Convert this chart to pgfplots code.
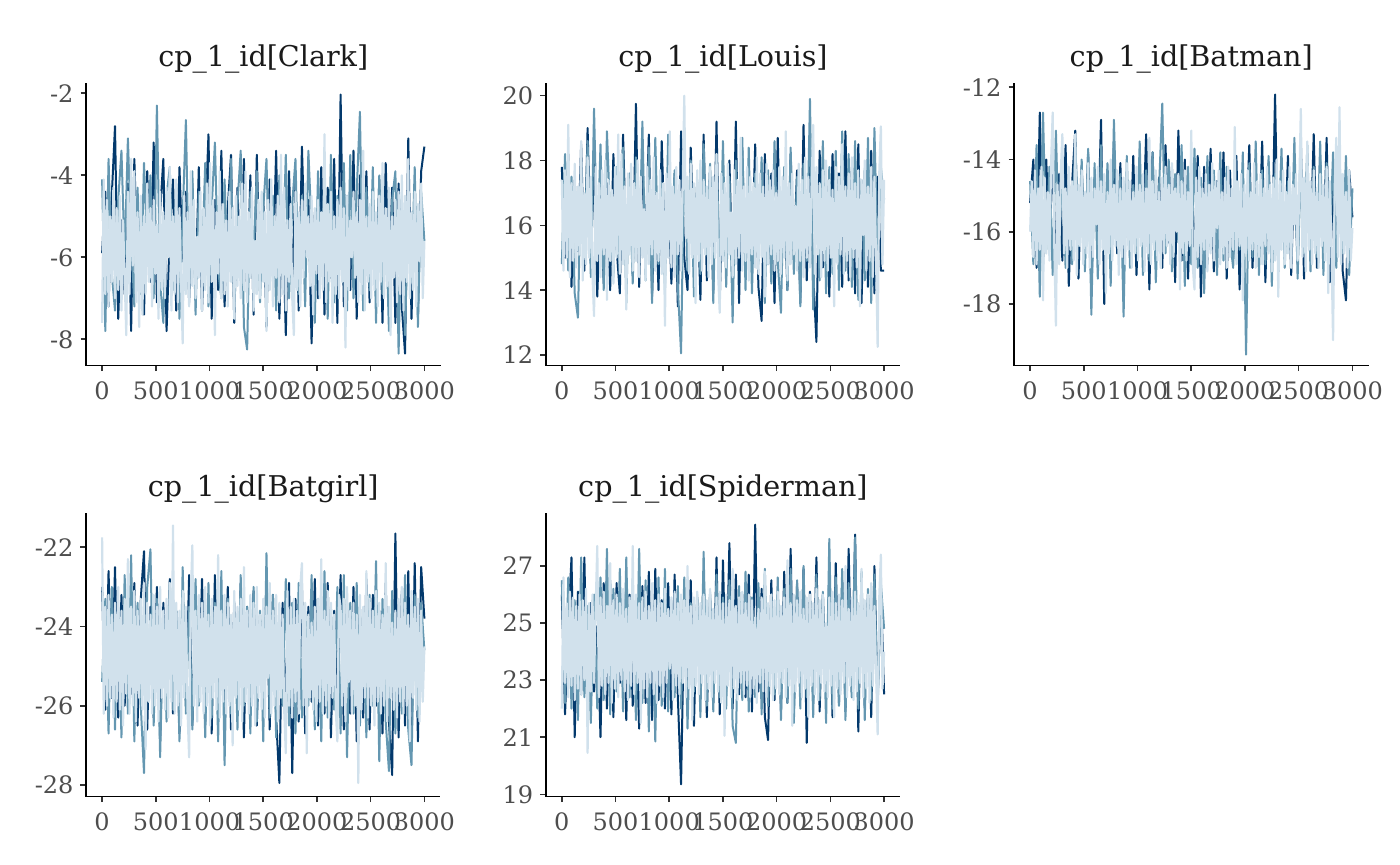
\documentclass[border=0pt]{standalone}
\usepackage{fontspec}
\setmainfont{DejaVu Serif}
\usepackage{pgfplots}
\pgfplotsset{compat=1.18}
\usepackage{pgfplotstable}
\definecolor{cdark}{HTML}{03396C}
\definecolor{cmid}{HTML}{6497B1}
\definecolor{clight}{HTML}{D1E1EC}
\definecolor{tickgray}{HTML}{4D4D4D}
\definecolor{titlegray}{HTML}{1A1A1A}

% chains 1 (a) and 2 (b)
\pgfplotstableread{
x a b
0 -5.9 -4.1
30 -4.4 -7.8
60 -7.2 -3.6
90 -4.5 -6.4
120 -2.8 -7.3
150 -7.5 -4.6
180 -5.1 -3.4
210 -6.9 -6.0
240 -4.2 -3.1
270 -7.8 -5.5
300 -3.6 -7.2
330 -6.3 -4.3
360 -5.0 -6.9
390 -7.4 -3.7
420 -3.9 -5.8
450 -6.6 -4.0
480 -3.2 -7.0
510 -7.1 -2.3
540 -4.9 -6.6
570 -3.6 -7.6
600 -7.8 -4.5
630 -5.4 -3.8
660 -4.1 -6.8
690 -7.3 -4.2
720 -3.8 -7.5
750 -6.1 -5.0
780 -4.4 -2.65
810 -7.1 -6.9
840 -4.2 -3.9
870 -6.9 -7.4
900 -3.8 -4.4
930 -7.3 -6.1
960 -5.2 -3.7
990 -3.0 -7.2
1020 -7.5 -4.8
1050 -4.6 -3.2
1080 -6.8 -6.3
1110 -3.4 -7.0
1140 -7.2 -4.1
1170 -4.8 -6.5
1200 -3.5 -3.6
1230 -7.6 -7.3
1260 -4.3 -4.7
1290 -6.5 -3.4
1320 -3.6 -7.7
1350 -7.0 -8.25
1380 -4.0 -4.4
1410 -7.4 -6.0
1440 -3.5 -3.9
1470 -6.6 -7.1
1500 -4.5 -4.8
1530 -7.7 -3.6
1560 -4.1 -6.7
1590 -6.4 -4.5
1620 -3.4 -7.3
1650 -7.5 -4.0
1680 -4.8 -6.2
1710 -7.9 -3.5
1740 -3.9 -7.0
1770 -6.6 -4.7
1800 -4.2 -3.6
1830 -7.3 -6.9
1860 -3.3 -4.5
1890 -6.0 -7.2
1920 -4.6 -3.4
1950 -8.1 -5.3
1980 -4.9 -7.6
2010 -7.0 -3.9
2040 -3.8 -6.4
2070 -7.4 -4.1
2100 -4.3 -7.5
2130 -6.5 -3.5
2160 -3.6 -7.1
2190 -7.6 -4.5
2220 -2.03 -6.2
2250 -7.2 -3.7
2280 -4.5 -7.3
2310 -6.8 -3.5
2340 -3.4 -7.0
2370 -7.5 -4.4
2400 -4.0 -2.45
2430 -6.6 -7.3
2460 -3.9 -4.3
2490 -7.1 -6.8
2520 -4.6 -3.8
2550 -6.9 -7.6
2580 -4.1 -4.0
2610 -7.6 -6.9
2640 -3.7 -5.0
2670 -6.4 -7.8
2700 -4.3 -4.6
2730 -7.6 -3.9
2760 -4.2 -8.35
2790 -7.2 -4.5
2820 -8.35 -7.9
2850 -3.1 -4.7
2880 -7.5 -6.6
2910 -4.5 -3.8
2940 -7.4 -7.7
2970 -3.9 -4.4
3000 -3.3 -5.6
}\clark

\pgfplotstableread{
x c
0 -7.6
15 -4.1
30 -6.9
45 -4.6
60 -7.2
75 -5.0
90 -6.6
105 -4.3
120 -7.0
135 -4.8
150 -6.8
165 -4.5
180 -7.3
195 -5.1
210 -6.5
225 -7.9
240 -4.4
255 -6.9
270 -3.6
285 -6.2
300 -3.9
315 -7.1
330 -4.9
345 -7.7
360 -4.5
375 -7.4
390 -5.0
405 -6.9
420 -4.2
435 -6.6
450 -4.8
465 -7.2
480 -4.6
495 -6.4
510 -5.2
525 -7.5
540 -4.4
555 -6.8
570 -4.9
585 -7.0
600 -4.3
615 -6.0
630 -3.8
645 -7.3
660 -5.0
675 -6.9
690 -4.1
705 -7.1
720 -4.8
735 -6.6
750 -8.1
765 -4.5
780 -6.9
795 -4.9
810 -7.2
825 -3.9
840 -6.7
855 -4.6
870 -7.0
885 -5.5
900 -6.5
915 -4.4
930 -7.3
945 -4.8
960 -6.8
975 -4.2
990 -7.1
1005 -3.7
1020 -6.6
1035 -4.6
1050 -7.9
1065 -4.9
1080 -6.4
1095 -3.9
1110 -7.0
1125 -4.7
1140 -6.9
1155 -5.1
1170 -7.2
1185 -4.4
1200 -6.6
1215 -4.8
1230 -7.5
1245 -4.5
1260 -6.7
1275 -5.0
1290 -7.0
1305 -4.2
1320 -6.8
1335 -3.9
1350 -7.1
1365 -4.9
1380 -6.5
1395 -4.3
1410 -7.3
1425 -5.6
1440 -6.9
1455 -4.6
1470 -7.0
1485 -4.4
1500 -6.6
1515 -4.9
1530 -7.8
1545 -4.6
1560 -6.8
1575 -4.1
1590 -7.2
1605 -5.0
1620 -6.5
1635 -4.5
1650 -7.1
1665 -3.5
1680 -6.9
1695 -4.3
1710 -7.3
1725 -5.1
1740 -6.6
1755 -4.7
1770 -7.0
1785 -7.9
1800 -4.4
1815 -6.8
1830 -4.9
1845 -7.2
1860 -4.6
1875 -6.5
1890 -4.2
1905 -6.0
1920 -5.0
1935 -6.7
1950 -4.5
1965 -7.4
1980 -4.8
1995 -6.4
2010 -4.6
2025 -7.0
2040 -4.9
2055 -6.8
2070 -3.0
2085 -7.1
2100 -4.7
2115 -6.6
2130 -4.4
2145 -7.6
2160 -5.0
2175 -6.9
2190 -4.6
2205 -7.0
2220 -4.3
2235 -6.6
2250 -4.8
2265 -8.2
2280 -4.5
2295 -6.8
2310 -5.1
2325 -6.0
2340 -4.4
2355 -6.5
2370 -4.9
2385 -7.1
2400 -4.6
2415 -6.9
2430 -3.4
2445 -7.3
2460 -5.0
2475 -6.6
2490 -4.7
2505 -7.0
2520 -4.4
2535 -6.8
2550 -4.9
2565 -7.2
2580 -4.5
2595 -6.6
2610 -3.7
2625 -7.0
2640 -4.8
2655 -6.7
2670 -4.3
2685 -7.9
2700 -5.0
2715 -6.5
2730 -4.6
2745 -7.1
2760 -4.4
2775 -6.9
2790 -4.0
2805 -7.3
2820 -4.5
2835 -6.6
2850 -3.6
2865 -7.0
2880 -4.9
2895 -6.8
2910 -4.4
2925 -7.2
2940 -4.7
2955 -6.1
2970 -4.2
2985 -7.0
3000 -5.6
}\clarkc

\pgfplotstableread{
x a b
0 17.8 14.8
30 15.0 18.2
60 18.2 14.6
90 14.1 17.5
120 17.4 13.9
150 15.2 13.15
180 18.5 17.8
210 14.6 15.0
240 19.0 18.6
270 14.8 14.4
300 17.9 19.6
330 13.8 15.1
360 16.9 18.5
390 14.2 14.0
420 17.3 18.9
450 14.0 16.3
480 18.2 14.4
510 15.3 17.8
540 13.9 14.6
570 18.8 18.4
600 15.2 13.6
630 17.5 17.6
660 14.5 14.2
690 19.75 18.1
720 14.1 15.0
750 17.8 19.2
780 15.5 14.3
810 18.8 18.4
840 13.8 13.6
870 17.0 18.7
900 14.0 14.8
930 18.6 17.3
960 15.3 14.0
990 17.2 18.8
1020 14.2 15.2
1050 17.6 17.7
1080 13.5 14.1
1110 18.9 12.05
1140 15.0 18.3
1170 14.0 14.6
1200 18.4 18.0
1230 15.1 13.8
1260 17.3 17.4
1290 13.7 14.5
1320 18.8 18.5
1350 14.3 15.1
1380 17.7 17.9
1410 14.0 13.6
1440 19.2 18.2
1470 13.7 14.4
1500 17.3 18.6
1530 14.9 14.1
1560 18.0 17.5
1590 14.2 13.0
1620 19.2 18.0
1650 13.6 15.0
1680 18.3 18.7
1710 14.5 14.0
1740 17.5 18.4
1770 15.0 13.9
1800 18.5 17.6
1830 14.1 14.8
1860 13.05 18.1
1890 18.2 13.6
1920 14.8 17.7
1950 17.6 14.2
1980 13.6 18.6
2010 18.7 14.9
2040 14.6 13.3
2070 17.2 17.8
2100 14.0 14.0
2130 18.2 18.4
2160 15.1 14.5
2190 17.7 17.5
2220 13.6 13.5
2250 19.1 17.9
2280 14.3 14.9
2310 17.8 19.9
2340 14.5 13.4
2370 12.4 17.3
2400 18.3 14.3
2430 14.7 18.6
2460 17.4 13.9
2490 13.8 17.8
2520 18.2 14.5
2550 15.0 18.3
2580 17.6 14.0
2610 14.1 18.9
2640 18.9 14.6
2670 14.3 18.2
2700 17.8 14.1
2730 13.9 18.6
2760 18.5 13.7
2790 13.6 17.4
2820 17.7 14.3
2850 14.1 18.7
2880 18.3 13.6
2910 13.9 19.0
2940 17.5 14.8
2970 14.6 17.8
3000 14.6 16.8
}\louis

\pgfplotstableread{
x c
0 17.4
15 14.6
30 17.7
45 15.0
60 19.1
75 14.4
90 17.3
105 14.9
120 17.9
135 14.7
150 17.2
165 15.1
180 18.6
195 14.3
210 17.0
225 14.8
240 18.1
255 15.0
270 17.5
285 14.5
300 13.2
315 17.8
330 14.9
345 17.3
360 14.4
375 17.7
390 15.1
405 18.0
420 13.7
435 17.4
450 14.9
465 17.1
480 14.2
495 17.8
510 15.0
525 18.8
540 14.5
555 18.2
570 14.8
585 17.2
600 13.4
615 17.6
630 15.1
645 17.9
660 14.6
675 17.3
690 14.9
705 18.0
720 14.4
735 17.5
750 15.0
765 16.5
780 14.3
795 17.8
810 14.8
825 17.4
840 15.1
855 18.1
870 14.6
885 17.0
900 14.9
915 17.7
930 14.5
945 17.3
960 12.9
975 17.6
990 15.0
1005 18.9
1020 14.7
1035 17.2
1050 14.4
1065 17.8
1080 15.1
1095 17.4
1110 14.6
1125 17.1
1140 20.0
1155 15.6
1170 17.5
1185 14.5
1200 17.9
1215 15.0
1230 17.3
1245 13.6
1260 17.7
1275 14.9
1290 18.0
1305 14.6
1320 17.4
1335 15.1
1350 17.2
1365 14.4
1380 17.8
1395 14.8
1410 17.5
1425 15.0
1440 18.2
1455 14.5
1470 13.3
1485 17.6
1500 14.9
1515 17.3
1530 14.7
1545 17.9
1560 15.1
1575 16.4
1590 14.4
1605 17.7
1620 14.8
1635 17.4
1650 15.0
1665 18.7
1680 14.6
1695 17.2
1710 14.9
1725 17.8
1740 14.3
1755 17.5
1770 15.1
1785 17.3
1800 14.7
1815 18.1
1830 14.5
1845 17.6
1860 15.0
1875 17.2
1890 13.8
1905 17.9
1920 14.8
1935 17.4
1950 15.1
1965 17.7
1980 14.6
1995 17.0
2010 14.9
2025 17.8
2040 14.5
2055 17.5
2070 15.0
2085 18.9
2100 14.3
2115 17.3
2130 14.8
2145 17.6
2160 15.1
2175 16.6
2190 14.6
2205 17.9
2220 14.9
2235 17.4
2250 14.4
2265 18.1
2280 15.0
2295 17.5
2310 14.7
2325 17.2
2340 19.1
2355 14.5
2370 17.8
2385 15.1
2400 17.3
2415 14.4
2430 17.7
2445 14.9
2460 18.0
2475 14.6
2490 17.4
2505 15.0
2520 17.1
2535 13.5
2550 17.8
2565 14.8
2580 17.5
2595 15.1
2610 18.5
2625 14.5
2640 17.2
2655 14.9
2670 17.6
2685 14.4
2700 18.1
2715 15.0
2730 17.3
2745 14.7
2760 17.7
2775 13.5
2790 17.4
2805 15.7
2820 18.0
2835 14.6
2850 17.2
2865 14.9
2880 17.8
2895 14.4
2910 17.5
2925 15.0
2940 12.25
2955 17.6
2970 19.05
2985 14.8
3000 17.4
}\louisc

\pgfplotstableread{
x a b
0 -15.2 -14.6
30 -14.0 -16.9
60 -17.0 -13.6
90 -12.7 -17.8
120 -16.9 -12.7
150 -14.0 -16.5
180 -16.3 -14.2
210 -13.9 -17.2
240 -17.1 -13.2
270 -14.4 -16.6
300 -16.8 -13.9
330 -13.6 -17.0
360 -17.5 -14.6
390 -14.7 -16.9
420 -13.2 -13.4
450 -17.3 -16.4
480 -14.2 -14.0
510 -16.8 -17.1
540 -13.8 -13.7
570 -17.6 -18.3
600 -14.5 -14.1
630 -16.2 -17.3
660 -12.9 -13.6
690 -18.0 -16.4
720 -14.3 -14.1
750 -17.0 -17.5
780 -13.5 -12.9
810 -16.6 -16.2
840 -14.1 -14.4
870 -17.4 -18.35
900 -14.6 -13.9
930 -16.7 -17.0
960 -13.9 -14.7
990 -17.2 -16.6
1020 -14.8 -13.5
1050 -16.1 -17.2
1080 -13.3 -14.3
1110 -17.6 -16.8
1140 -13.8 -13.8
1170 -16.9 -17.4
1200 -14.5 -14.8
1230 -17.0 -12.45
1260 -13.6 -16.6
1290 -16.3 -14.0
1320 -14.2 -17.1
1350 -17.4 -14.4
1380 -13.2 -16.3
1410 -16.8 -13.6
1440 -14.0 -17.5
1470 -17.3 -14.2
1500 -14.4 -16.9
1530 -16.6 -13.7
1560 -13.9 -17.0
1590 -17.8 -14.5
1620 -14.2 -17.7
1650 -16.9 -13.9
1680 -13.7 -16.5
1710 -17.1 -14.3
1740 -14.6 -17.2
1770 -16.4 -13.8
1800 -13.8 -16.8
1830 -17.3 -14.2
1860 -14.3 -16.2
1890 -16.7 -17.0
1920 -13.9 -14.6
1950 -17.6 -16.5
1980 -14.5 -13.8
2010 -16.2 -19.4
2040 -13.6 -14.1
2070 -17.0 -16.7
2100 -14.8 -13.5
2130 -16.5 -17.2
2160 -13.5 -14.3
2190 -17.4 -16.9
2220 -14.1 -13.9
2250 -16.8 -17.5
2280 -12.2 -14.4
2310 -17.1 -16.3
2340 -14.4 -13.7
2370 -16.6 -17.0
2400 -13.9 -14.6
2430 -17.2 -16.8
2460 -14.2 -13.4
2490 -16.9 -17.3
2520 -13.5 -14.0
2550 -17.3 -16.6
2580 -14.1 -13.6
2610 -16.4 -17.1
2640 -13.3 -14.2
2670 -17.0 -16.7
2700 -14.0 -13.5
2730 -16.7 -17.2
2760 -13.4 -14.1
2790 -17.4 -16.4
2820 -14.6 -13.8
2850 -16.5 -17.0
2880 -13.9 -14.4
2910 -17.1 -16.6
2940 -17.9 -13.9
2970 -14.3 -17.2
3000 -15.6 -14.8
}\batman

\pgfplotstableread{
x c
0 -16.0
15 -14.6
30 -16.7
45 -14.3
60 -16.9
75 -14.8
90 -16.5
105 -14.2
120 -17.9
135 -14.5
150 -16.6
165 -14.9
180 -16.8
195 -14.1
210 -12.7
225 -16.4
240 -18.6
255 -14.7
270 -16.9
285 -14.4
300 -13.3
315 -16.6
330 -14.8
345 -17.0
360 -14.2
375 -16.5
390 -14.6
405 -16.8
420 -13.3
435 -17.2
450 -14.7
465 -16.4
480 -14.3
495 -16.9
510 -14.9
525 -16.6
540 -14.1
555 -17.0
570 -14.5
585 -16.7
600 -14.8
615 -15.8
630 -14.2
645 -16.9
660 -14.6
675 -16.5
690 -14.4
705 -17.7
720 -14.9
735 -16.6
750 -14.0
765 -16.8
780 -14.7
795 -16.4
810 -14.3
825 -17.2
840 -14.8
855 -16.7
870 -14.5
885 -16.9
900 -14.1
915 -16.5
930 -14.6
945 -17.0
960 -14.9
975 -16.6
990 -14.2
1005 -16.8
1020 -14.7
1035 -16.4
1050 -14.4
1065 -17.1
1080 -14.8
1095 -16.6
1110 -13.4
1125 -16.9
1140 -14.6
1155 -16.5
1170 -14.3
1185 -16.8
1200 -14.9
1215 -17.0
1230 -14.5
1245 -16.6
1260 -14.2
1275 -16.4
1290 -14.7
1305 -16.9
1320 -14.1
1335 -16.7
1350 -14.8
1365 -16.0
1380 -14.4
1395 -17.6
1410 -14.6
1425 -16.6
1440 -14.3
1455 -16.8
1470 -14.9
1485 -16.4
1500 -13.2
1515 -17.0
1530 -17.6
1545 -14.5
1560 -16.7
1575 -14.2
1590 -16.9
1605 -14.8
1620 -16.5
1635 -14.4
1650 -17.1
1665 -14.7
1680 -16.6
1695 -14.1
1710 -16.8
1725 -14.6
1740 -15.9
1755 -14.3
1770 -16.9
1785 -14.9
1800 -16.6
1815 -14.5
1830 -17.0
1845 -14.2
1860 -16.7
1875 -14.8
1890 -16.5
1905 -13.1
1920 -16.9
1935 -14.6
1950 -16.4
1965 -14.4
1980 -17.9
1995 -14.7
2010 -16.6
2025 -14.3
2040 -16.8
2055 -14.9
2070 -16.5
2085 -14.1
2100 -17.0
2115 -14.6
2130 -16.7
2145 -14.4
2160 -16.9
2175 -14.8
2190 -16.4
2205 -14.2
2220 -16.6
2235 -14.7
2250 -17.1
2265 -14.5
2280 -16.8
2295 -14.0
2310 -17.8
2325 -14.6
2340 -16.5
2355 -14.3
2370 -16.9
2385 -14.9
2400 -16.6
2415 -14.2
2430 -17.0
2445 -14.7
2460 -15.8
2475 -14.4
2490 -16.8
2505 -14.8
2520 -12.6
2535 -16.7
2550 -14.5
2565 -17.1
2580 -13.5
2595 -16.5
2610 -14.6
2625 -16.9
2640 -14.3
2655 -16.6
2670 -14.9
2685 -17.0
2700 -14.4
2715 -16.4
2730 -14.7
2745 -16.8
2760 -14.2
2775 -17.7
2790 -14.6
2805 -16.5
2820 -19.0
2835 -14.8
2850 -13.4
2865 -16.7
2880 -12.55
2895 -16.9
2910 -14.4
2925 -16.6
2940 -14.9
2955 -17.0
2970 -14.3
2985 -16.8
3000 -15.9
}\batmanc

\pgfplotstableread{
x a b
0 -23.0 -25.4
30 -26.1 -23.3
60 -22.6 -26.7
90 -25.8 -23.0
120 -22.5 -26.6
150 -26.3 -23.5
180 -23.2 -26.8
210 -26.0 -22.7
240 -23.6 -26.2
270 -25.7 -22.2
300 -22.9 -26.9
330 -26.5 -23.4
360 -23.3 -26.0
390 -22.1 -27.7
420 -26.6 -23.0
450 -23.5 -22.05
480 -26.3 -26.5
510 -23.0 -23.3
540 -26.9 -27.3
570 -23.4 -23.8
600 -25.9 -26.4
630 -22.8 -22.9
660 -26.2 -26.1
690 -23.6 -23.6
720 -26.7 -26.9
750 -23.1 -22.5
780 -26.0 -26.2
810 -22.7 -23.5
840 -26.5 -26.6
870 -23.5 -22.8
900 -25.8 -26.0
930 -22.8 -23.7
960 -26.4 -26.8
990 -23.3 -22.9
1020 -26.7 -26.3
1050 -22.7 -23.4
1080 -26.1 -26.9
1110 -23.6 -22.6
1140 -25.9 -27.5
1170 -23.0 -23.3
1200 -26.6 -26.2
1230 -23.4 -23.7
1260 -26.2 -26.6
1290 -22.9 -22.7
1320 -26.8 -26.0
1350 -23.5 -23.5
1380 -25.7 -26.7
1410 -23.1 -23.0
1440 -26.5 -26.4
1470 -23.7 -23.6
1500 -26.0 -26.9
1530 -22.8 -22.15
1560 -26.6 -26.3
1590 -23.2 -23.2
1620 -26.3 -26.8
1650 -27.95 -23.9
1680 -23.4 -26.0
1710 -26.1 -22.8
1740 -22.9 -26.5
1770 -27.7 -23.4
1800 -23.3 -26.7
1830 -26.4 -22.9
1860 -23.0 -26.3
1890 -26.7 -23.6
1920 -23.5 -26.0
1950 -25.9 -22.7
1980 -22.8 -26.6
2010 -26.5 -23.3
2040 -23.3 -26.9
2070 -26.2 -22.6
2100 -22.9 -26.3
2130 -26.8 -23.5
2160 -23.6 -26.1
2190 -26.0 -23.0
2220 -22.7 -26.7
2250 -26.6 -22.7
2280 -23.4 -27.3
2310 -26.2 -23.4
2340 -23.0 -26.2
2370 -26.9 -22.9
2400 -23.5 -26.5
2430 -26.3 -23.6
2460 -22.8 -26.8
2490 -26.6 -23.2
2520 -23.2 -26.0
2550 -26.0 -22.35
2580 -23.6 -27.4
2610 -26.7 -23.3
2640 -22.9 -26.4
2670 -26.4 -27.65
2700 -27.75 -23.1
2730 -21.65 -26.7
2760 -26.8 -23.5
2790 -23.1 -26.2
2820 -26.5 -22.7
2850 -22.6 -26.6
2880 -27.1 -27.5
2910 -22.4 -23.2
2940 -26.9 -26.3
2970 -22.5 -23.4
3000 -23.8 -24.6
}\batgirl

\pgfplotstableread{
x c
0 -21.75
15 -26.2
30 -23.5
45 -26.0
60 -23.2
75 -25.8
90 -23.7
105 -26.3
120 -23.4
135 -25.9
150 -23.0
165 -26.1
180 -23.6
195 -26.5
210 -23.3
225 -25.7
240 -22.3
255 -26.2
270 -23.5
285 -26.0
300 -23.1
315 -26.4
330 -23.6
345 -25.8
360 -23.3
375 -26.1
390 -22.9
405 -27.1
420 -23.4
435 -25.9
450 -23.7
465 -26.2
480 -23.2
495 -26.0
510 -23.5
525 -26.4
540 -23.0
555 -25.8
570 -23.6
585 -26.1
600 -23.3
615 -26.3
630 -22.9
645 -25.9
660 -21.45
675 -26.2
690 -23.4
705 -26.0
720 -23.6
735 -26.5
750 -23.1
765 -25.8
780 -23.5
795 -26.1
810 -27.3
825 -23.3
840 -21.95
855 -26.0
870 -23.6
885 -26.4
900 -23.2
915 -25.9
930 -23.4
945 -26.2
960 -23.0
975 -26.0
990 -23.7
1005 -26.5
1020 -23.3
1035 -25.8
1050 -23.5
1065 -26.1
1080 -22.2
1095 -26.3
1110 -23.6
1125 -25.9
1140 -23.2
1155 -26.2
1170 -23.4
1185 -26.0
1200 -23.7
1215 -27.0
1230 -23.1
1245 -25.8
1260 -23.5
1275 -26.1
1290 -23.3
1305 -26.4
1320 -22.5
1335 -25.9
1350 -23.6
1365 -26.2
1380 -23.2
1395 -26.0
1410 -23.4
1425 -26.5
1440 -23.0
1455 -25.8
1470 -23.7
1485 -26.1
1500 -23.3
1515 -26.3
1530 -23.5
1545 -25.3
1560 -22.9
1575 -26.2
1590 -23.6
1605 -26.0
1620 -23.2
1635 -26.4
1650 -23.4
1665 -25.8
1680 -23.7
1695 -26.1
1710 -27.2
1725 -23.1
1740 -26.0
1755 -23.5
1770 -26.3
1785 -23.3
1800 -25.9
1815 -23.6
1830 -26.2
1845 -23.0
1860 -22.4
1875 -26.0
1890 -23.4
1905 -27.2
1920 -23.7
1935 -25.8
1950 -23.9
1965 -26.1
1980 -23.5
1995 -26.4
2010 -23.3
2025 -25.9
2040 -22.3
2055 -26.2
2070 -23.6
2085 -26.0
2100 -23.1
2115 -26.3
2130 -23.4
2145 -25.8
2160 -23.7
2175 -26.1
2190 -26.9
2205 -23.2
2220 -23.5
2235 -26.0
2250 -23.3
2265 -26.4
2280 -23.0
2295 -25.4
2310 -23.6
2325 -26.2
2340 -23.4
2355 -26.0
2370 -23.7
2385 -27.95
2400 -23.2
2415 -26.1
2430 -23.5
2445 -25.8
2460 -22.6
2475 -26.3
2490 -23.3
2505 -26.0
2520 -23.6
2535 -26.5
2550 -23.1
2565 -25.9
2580 -23.4
2595 -26.2
2610 -23.7
2625 -26.0
2640 -22.4
2655 -26.4
2670 -23.5
2685 -25.8
2700 -23.9
2715 -26.1
2730 -23.6
2745 -26.3
2760 -23.3
2775 -25.9
2790 -23.0
2805 -26.2
2820 -23.4
2835 -26.0
2850 -23.7
2865 -26.9
2880 -23.1
2895 -25.8
2910 -23.5
2925 -26.1
2940 -23.3
2955 -26.4
2970 -23.6
2985 -25.9
3000 -24.5
}\batgirlc

\pgfplotstableread{
x a b
0 26.0 26.5
30 21.8 22.2
60 24.9 26.6
90 27.3 22.0
120 21.0 25.8
150 26.1 21.6
180 22.5 27.3
210 27.3 22.4
240 21.4 25.6
270 25.7 21.5
300 22.6 26.0
330 24.9 22.0
360 21.0 26.6
390 26.4 22.3
420 22.0 27.6
450 26.5 21.8
480 21.7 26.2
510 26.4 22.6
540 22.9 26.9
570 26.1 21.9
600 21.6 27.3
630 26.0 22.4
660 22.1 26.0
690 24.9 21.6
720 21.3 27.6
750 26.3 22.2
780 22.2 26.5
810 26.8 21.2
840 21.6 26.0
870 26.9 20.85
900 22.3 26.6
930 25.8 22.1
960 22.0 26.9
990 26.4 21.9
1020 21.8 25.8
1050 26.7 22.4
1080 22.4 26.3
1110 19.35 22.0
1140 25.6 26.6
1170 22.0 21.3
1200 26.5 25.7
1230 21.4 22.6
1260 25.9 26.0
1290 22.5 21.7
1320 26.8 27.5
1350 21.7 22.1
1380 26.0 26.1
1410 22.2 21.9
1440 27.3 26.7
1470 21.8 22.4
1500 27.2 25.9
1530 22.6 22.0
1560 27.8 26.5
1590 22.0 21.4
1620 26.7 20.8
1650 22.5 26.3
1680 26.0 22.3
1710 22.4 26.8
1740 26.7 21.9
1770 21.9 25.9
1800 28.45 22.4
1830 22.6 26.4
1860 26.2 21.8
1890 21.7 26.9
1920 20.9 22.1
1950 26.5 26.0
1980 22.3 22.5
2010 26.0 26.6
2040 21.9 21.6
2070 26.8 26.2
2100 22.2 22.2
2130 27.6 26.9
2160 21.8 21.5
2190 26.4 26.5
2220 22.5 22.0
2250 26.9 27.0
2280 20.8 22.4
2310 26.1 25.8
2340 22.3 21.7
2370 27.3 26.7
2400 21.9 22.3
2430 26.0 26.1
2460 22.6 21.5
2490 26.6 27.95
2520 21.7 22.0
2550 27.1 26.6
2580 22.2 22.1
2610 26.5 26.9
2640 21.9 21.6
2670 27.6 26.4
2700 22.4 22.4
2730 28.1 28.0
2760 21.2 22.0
2790 26.5 26.8
2820 22.1 21.6
2850 26.0 26.2
2880 21.7 22.3
2910 27.0 26.7
2940 22.3 22.0
2970 26.2 26.4
3000 22.5 24.8
}\spider

\pgfplotstableread{
x c
0 22.0
15 26.6
30 22.9
45 25.7
60 22.4
75 26.1
90 22.8
105 25.9
120 22.3
135 25.6
150 22.7
165 26.0
180 22.5
195 25.8
210 23.0
225 26.2
240 20.45
255 25.7
270 22.6
285 26.0
300 22.9
315 25.5
330 27.7
345 22.4
360 25.9
375 22.8
390 26.1
405 22.5
420 25.6
435 22.9
450 27.1
465 22.2
480 25.8
495 22.7
510 26.0
525 22.4
540 25.7
555 23.0
570 26.2
585 22.6
600 25.5
615 22.3
630 25.9
645 22.8
660 27.7
675 22.5
690 26.0
705 22.9
720 25.7
735 21.5
750 25.9
765 22.7
780 26.1
795 22.4
810 25.6
825 22.9
840 26.4
855 22.5
870 25.8
885 22.2
900 26.0
915 22.8
930 25.7
945 22.4
960 26.2
975 22.9
990 25.5
1005 23.4
1020 25.9
1035 22.3
1050 26.1
1065 22.8
1080 25.7
1095 22.5
1110 26.0
1125 22.9
1140 25.8
1155 22.4
1170 27.0
1185 22.7
1200 25.6
1215 21.6
1230 25.9
1245 22.8
1260 26.1
1275 22.5
1290 25.7
1305 22.9
1320 26.0
1335 22.3
1350 25.8
1365 22.7
1380 26.2
1395 22.4
1410 25.5
1425 22.9
1440 25.9
1455 22.6
1470 26.1
1485 22.2
1500 25.7
1515 21.05
1530 26.0
1545 22.8
1560 25.8
1575 22.4
1590 26.9
1605 22.7
1620 25.6
1635 22.3
1650 25.9
1665 22.9
1680 26.1
1695 22.5
1710 25.7
1725 22.8
1740 26.0
1755 22.4
1770 25.8
1785 22.7
1800 25.2
1815 22.2
1830 25.5
1845 22.9
1860 25.9
1875 22.6
1890 26.8
1905 22.4
1920 25.7
1935 22.8
1950 26.0
1965 22.3
1980 25.8
1995 22.7
2010 26.1
2025 22.5
2040 25.6
2055 22.9
2070 25.9
2085 22.4
2100 27.2
2115 22.8
2130 25.7
2145 21.4
2160 26.0
2175 22.6
2190 25.8
2205 22.9
2220 26.1
2235 22.4
2250 25.5
2265 22.7
2280 25.9
2295 21.7
2310 26.0
2325 22.8
2340 25.7
2355 22.5
2370 26.2
2385 22.3
2400 25.8
2415 22.9
2430 26.0
2445 22.6
2460 25.0
2475 22.4
2490 25.9
2505 22.8
2520 26.1
2535 21.7
2550 25.7
2565 22.7
2580 26.0
2595 22.5
2610 25.8
2625 22.9
2640 27.0
2655 22.4
2670 25.5
2685 22.8
2700 25.9
2715 22.3
2730 26.1
2745 22.6
2760 25.7
2775 22.9
2790 26.9
2805 22.4
2820 25.8
2835 22.7
2850 26.0
2865 22.2
2880 26.4
2895 22.8
2910 25.6
2925 23.3
2940 21.1
2955 25.9
2970 27.4
2985 22.7
3000 24.0
}\spiderc

\pgfplotsset{
  trace/.style={
    scale only axis, width=177.25pt,
    xmin=-150, xmax=3150,
    axis x line*=bottom, axis y line*=left,
    axis line style={black, line width=0.8pt},
    xtick={0,500,1000,1500,2000,2500,3000},
    xticklabels={0,500,1000,1500,2000,2500,3000},
    tick align=outside, major tick length=2.75pt,
    every tick/.style={black!80, line width=0.8pt},
    tick label style={font=\fontsize{12}{14}\selectfont, text=tickgray},
    xticklabel shift=1.6pt,
    title style={font=\fontsize{14.3}{16}\selectfont, text=titlegray, at={(0.5,1)}, anchor=base, yshift=2pt},
    anchor=south west,
  }
}

\newcommand{\chains}[2]{%
  \addplot[cdark, line width=1pt, line join=round] table[x=x, y=a] {#1};
  \addplot[cmid, line width=1pt, line join=round] table[x=x, y=b] {#1};
  \addplot[clight, line width=1.1pt, line join=round] table[x=x, y=c] {#2};
}

\begin{document}
\begin{tikzpicture}
\path (0,0) rectangle (700pt,432.5pt);

\begin{axis}[trace, at={(43pt,249.65pt)}, height=141.5pt,
  ymin=-8.644, ymax=-1.741, ytick={-8,-6,-4,-2}, yticklabels={-8,-6,-4,-2},
  title={cp\_1\_id[Clark]}]
\chains{\clark}{\clarkc}
\end{axis}

\begin{axis}[trace, at={(272.85pt,249.65pt)}, height=141.5pt,
  ymin=11.67, ymax=20.40, ytick={12,14,16,18,20}, yticklabels={12,14,16,18,20},
  title={cp\_1\_id[Louis]}]
\chains{\louis}{\louisc}
\end{axis}

\begin{axis}[trace, at={(507pt,249.65pt)}, height=141.5pt,
  ymin=-19.708, ymax=-11.873, ytick={-18,-16,-14,-12}, yticklabels={-18,-16,-14,-12},
  title={cp\_1\_id[Batman]}]
\chains{\batman}{\batmanc}
\end{axis}

\begin{axis}[trace, at={(43pt,34.15pt)}, height=142pt,
  ymin=-28.295, ymax=-21.127, ytick={-28,-26,-24,-22}, yticklabels={-28,-26,-24,-22},
  title={cp\_1\_id[Batgirl]}]
\chains{\batgirl}{\batgirlc}
\end{axis}

\begin{axis}[trace, at={(272.85pt,34.15pt)}, height=142pt,
  ymin=18.916, ymax=28.867, ytick={19,21,23,25,27}, yticklabels={19,21,23,25,27},
  title={cp\_1\_id[Spiderman]}]
\chains{\spider}{\spiderc}
\end{axis}
\end{tikzpicture}
\end{document}
